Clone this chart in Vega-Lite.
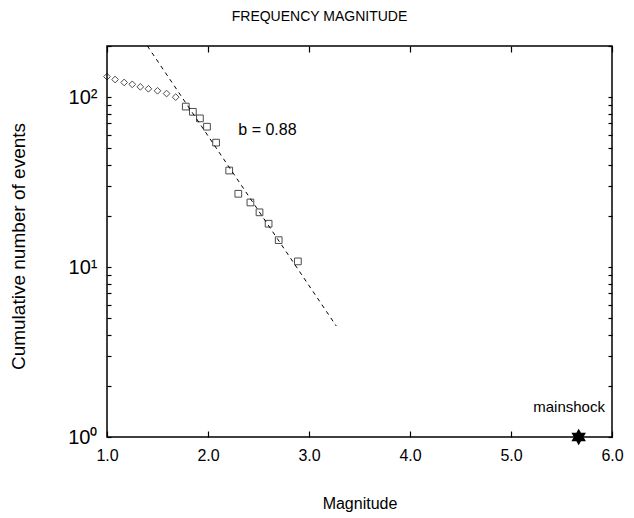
{
  "$schema": "https://vega.github.io/schema/vega-lite/v6.json",
  "width": 505,
  "height": 391,
  "autosize": "none",
  "padding": {"left": 107, "top": 46, "right": 22, "bottom": 81},
  "background": "white",
  "config": {
    "view": {"stroke": "black", "strokeWidth": 1.5},
    "font": "Liberation Sans",
    "axis": {"domain": false, "grid": false, "ticks": true, "tickColor": "black", "tickWidth": 1.2, "labelColor": "black", "titleColor": "black", "labelFont": "Liberation Sans", "titleFont": "Liberation Sans", "titleFontWeight": "normal", "labelFlush": false}
  },
  "title": {"text": "FREQUENCY MAGNITUDE", "fontSize": 14, "fontWeight": "normal", "font": "Liberation Sans", "color": "black", "dx": -40, "offset": 20},
  "datasets": {
    "pts": [
      {"M": 1.00, "N": 132}, {"M": 1.08, "N": 127}, {"M": 1.17, "N": 122}, {"M": 1.25, "N": 119},
      {"M": 1.33, "N": 115}, {"M": 1.41, "N": 112}, {"M": 1.50, "N": 109}, {"M": 1.59, "N": 105},
      {"M": 1.68, "N": 100}, {"M": 1.78, "N": 88}, {"M": 1.85, "N": 82}, {"M": 1.92, "N": 75},
      {"M": 1.99, "N": 67}, {"M": 2.08, "N": 54}, {"M": 2.21, "N": 37}, {"M": 2.30, "N": 27},
      {"M": 2.42, "N": 24}, {"M": 2.51, "N": 21}, {"M": 2.60, "N": 18}, {"M": 2.70, "N": 14.4},
      {"M": 2.89, "N": 10.8}
    ],
    "fit": [{"M": 1.40, "N": 200}, {"M": 3.27, "N": 4.5}],
    "main": [{"M": 5.67, "N": 1}],
    "bval": [{"M": 2.3, "N": 64, "label": "b = 0.88"}],
    "mlab": [{"M": 5.93, "N": 1.5, "label": "mainshock"}]
  },
  "resolve": {"axis": {"x": "independent", "y": "independent"}},
  "layer": [
    {
      "data": {"name": "pts"},
      "mark": {"type": "point", "filled": false, "color": "black", "strokeWidth": 1, "size": 45},
      "encoding": {
        "x": {"field": "M", "type": "quantitative", "scale": {"domain": [1, 6], "nice": false, "zero": false},
              "axis": {"orient": "bottom", "values": [1, 2, 3, 4, 5, 6], "format": ".1f", "tickSize": -6, "labelPadding": 16, "labelFontSize": 16, "title": "Magnitude", "titleFontSize": 16, "titlePadding": 32}},
        "y": {"field": "N", "type": "quantitative", "scale": {"type": "log", "domain": [1, 200], "nice": false},
              "axis": {"orient": "left", "values": [1, 2, 3, 4, 5, 6, 7, 8, 9, 10, 20, 30, 40, 50, 60, 70, 80, 90, 100, 200],
                       "labelExpr": "datum.value == 1 ? '10⁰' : datum.value == 10 ? '10¹' : datum.value == 100 ? '10²' : ''",
                       "tickSize": -4, "labelPadding": 14, "labelFontSize": 20,
                       "title": "Cumulative number of events", "titleFontSize": 19, "titleX": -89, "titleY": 200, "titleBaseline": "middle"}},
        "shape": {"condition": {"test": "datum.M < 1.75", "value": "diamond"}, "value": "square"}
      }
    },
    {
      "data": {"name": "fit"},
      "mark": {"type": "line", "color": "black", "strokeWidth": 1, "strokeDash": [4, 4]},
      "encoding": {
        "x": {"field": "M", "type": "quantitative", "axis": {"orient": "top", "values": [1, 2, 3, 4, 5, 6], "labels": false, "tickSize": -6, "title": null}},
        "y": {"field": "N", "type": "quantitative", "axis": {"orient": "right", "values": [1, 2, 3, 4, 5, 6, 7, 8, 9, 10, 20, 30, 40, 50, 60, 70, 80, 90, 100, 200], "labels": false, "tickSize": -4, "title": null}}
      }
    },
    {
      "data": {"name": "main"},
      "mark": {"type": "point", "filled": true, "color": "black", "opacity": 1, "size": 280,
               "shape": "M0,-1L0.866,0.5L-0.866,0.5Z M0,1L-0.866,-0.5L0.866,-0.5Z"},
      "encoding": {
        "x": {"field": "M", "type": "quantitative", "axis": null},
        "y": {"field": "N", "type": "quantitative", "axis": null}
      }
    },
    {
      "data": {"name": "bval"},
      "mark": {"type": "text", "align": "left", "baseline": "middle", "fontSize": 16, "color": "black", "font": "Liberation Sans"},
      "encoding": {
        "x": {"field": "M", "type": "quantitative", "axis": null},
        "y": {"field": "N", "type": "quantitative", "axis": null},
        "text": {"field": "label"}
      }
    },
    {
      "data": {"name": "mlab"},
      "mark": {"type": "text", "align": "right", "baseline": "middle", "fontSize": 15, "color": "black", "font": "Liberation Sans"},
      "encoding": {
        "x": {"field": "M", "type": "quantitative", "axis": null},
        "y": {"field": "N", "type": "quantitative", "axis": null},
        "text": {"field": "label"}
      }
    }
  ]
}
